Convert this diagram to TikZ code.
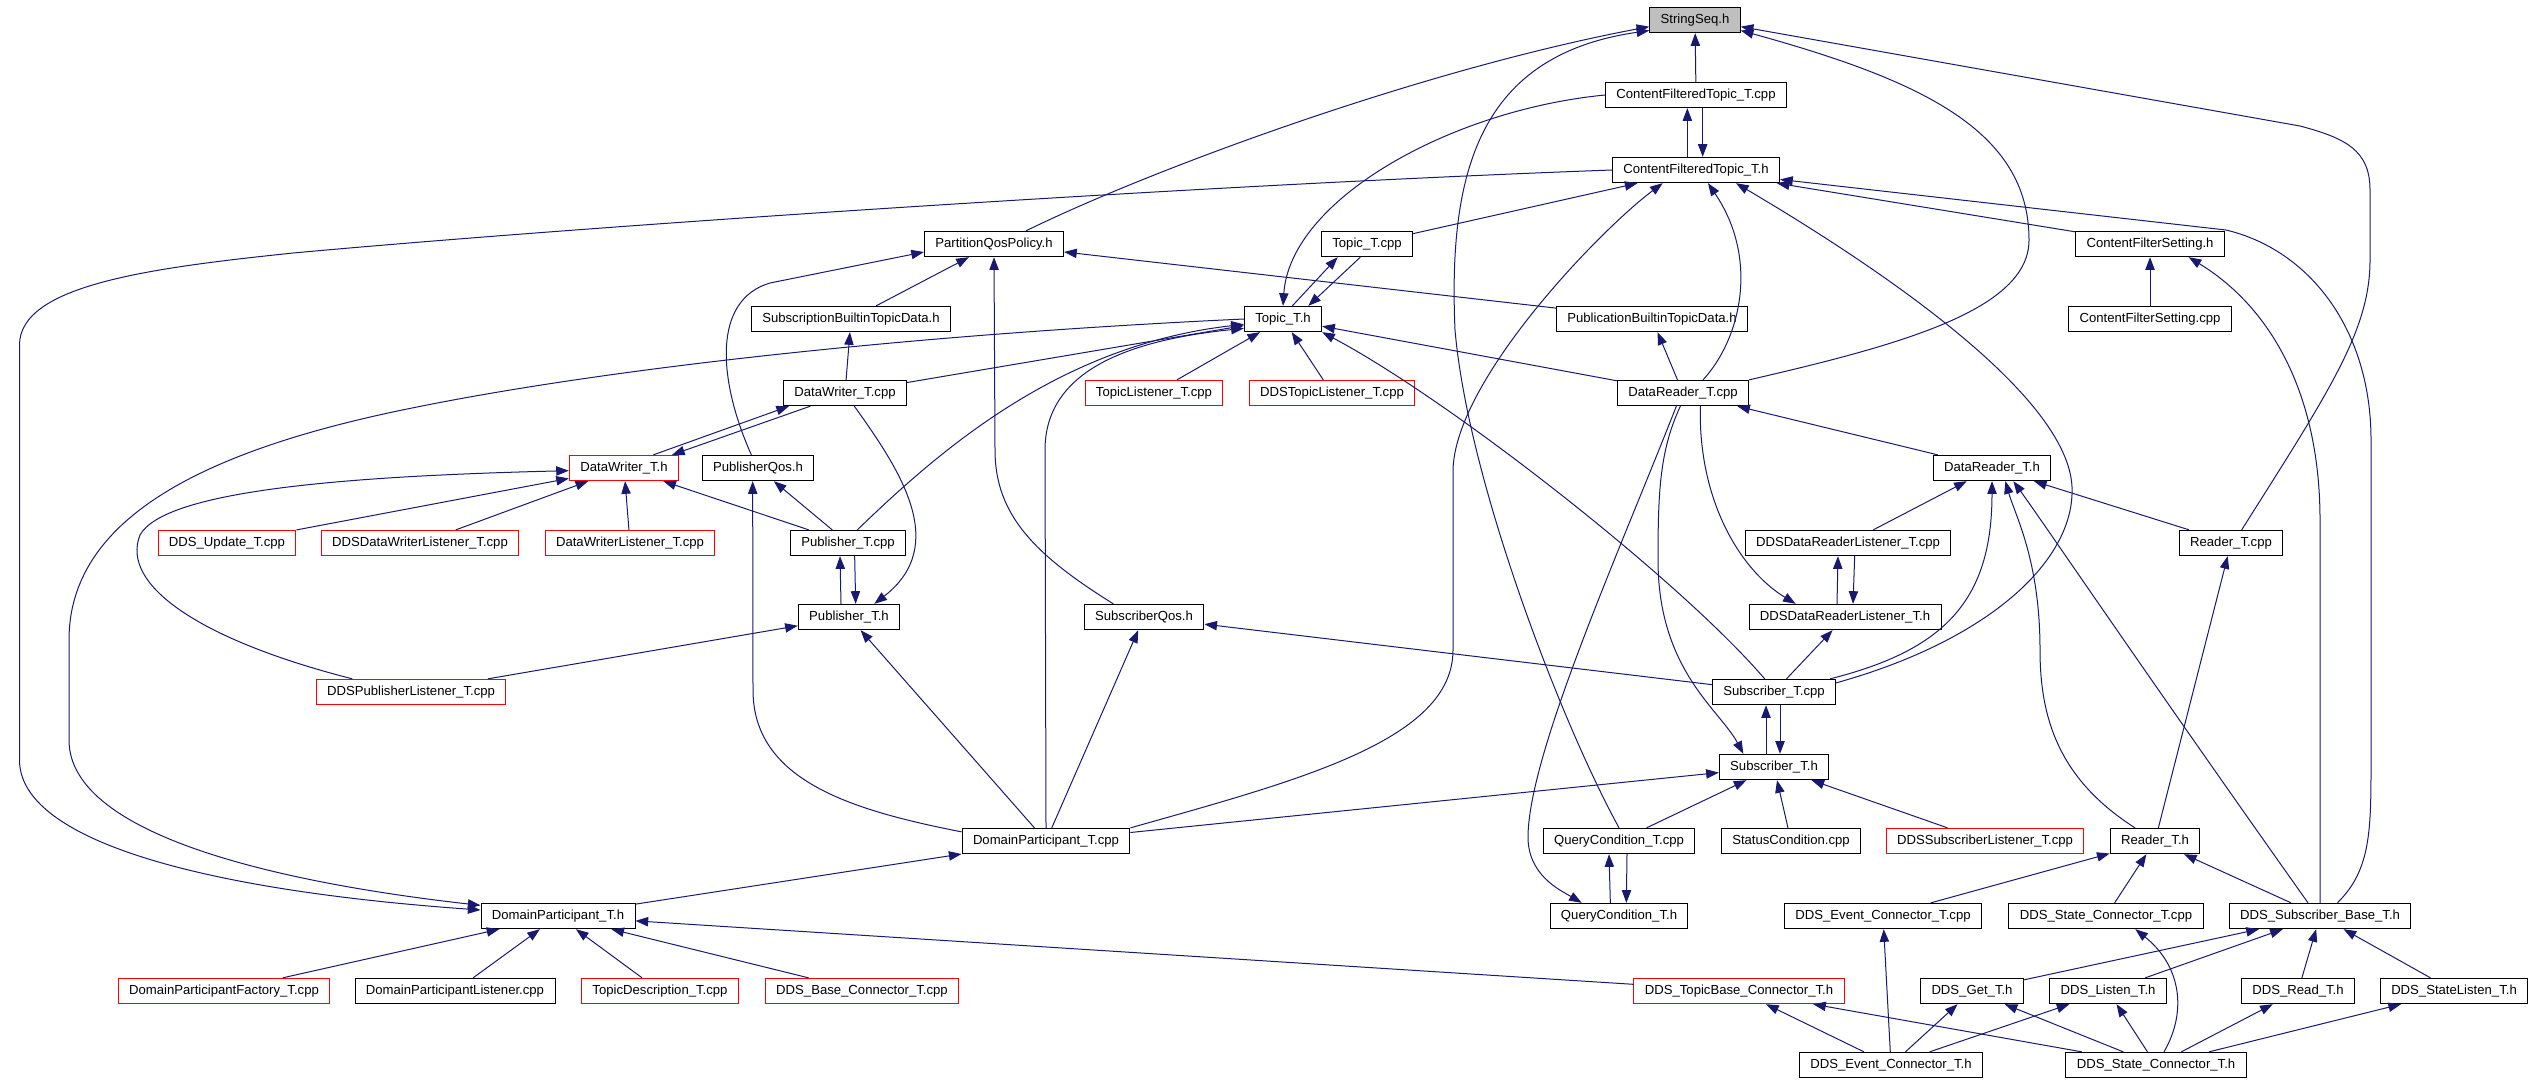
\documentclass[tikz,border=0pt]{standalone}
\usepackage{fontspec}
\setmainfont{Liberation Sans}
\usepackage{tikz}
\usetikzlibrary{arrows.meta}
\definecolor{edgeblue}{HTML}{191970}
\definecolor{rootgray}{HTML}{BFBFBF}

\begin{document}
\begin{tikzpicture}[x=0.75pt, y=-0.75pt,
    filebox/.style={draw=black, line width=0.75pt, fill=white, inner xsep=8.2pt, inner ysep=4.65pt,
        text height=7.5pt, text depth=2.2pt, font=\fontsize{9.85}{11}\selectfont},
    redbox/.style={filebox, draw=red},
    rootbox/.style={filebox, fill=rootgray},
    incl/.style={draw=edgeblue, line width=0.75pt, -{Triangle[length=9.5pt,width=7pt]}}]
    \useasboundingbox (0,0) rectangle (2533,1083);

    % files, row by row
    \node[rootbox] (stringseq) at (1695,20) {StringSeq.h};
    \node[filebox] (cftcpp) at (1696,95) {ContentFilteredTopic\_T.cpp};
    \node[filebox] (cfth) at (1696,170) {ContentFilteredTopic\_T.h};
    \node[filebox] (pqp) at (994,244) {PartitionQosPolicy.h};
    \node[filebox] (topiccpp) at (1367,244) {Topic\_T.cpp};
    \node[filebox] (cfsh) at (2150,244) {ContentFilterSetting.h};
    \node[filebox] (sbtd) at (851,319) {SubscriptionBuiltinTopicData.h};
    \node[filebox] (topich) at (1283,319) {Topic\_T.h};
    \node[filebox] (pbtd) at (1652,319) {PublicationBuiltinTopicData.h};
    \node[filebox] (cfscpp) at (2150,319) {ContentFilterSetting.cpp};
    \node[filebox] (dwcpp) at (845,393) {DataWriter\_T.cpp};
    \node[redbox] (topiclist) at (1154,393) {TopicListener\_T.cpp};
    \node[redbox] (ddstopiclist) at (1332,393) {DDSTopicListener\_T.cpp};
    \node[filebox] (drcpp) at (1683,393) {DataReader\_T.cpp};
    \node[redbox] (dwh) at (624,468) {DataWriter\_T.h};
    \node[filebox] (pubqos) at (758,468) {PublisherQos.h};
    \node[filebox] (drh) at (1992,468) {DataReader\_T.h};
    \node[redbox] (ddsupdate) at (227,543) {DDS\_Update\_T.cpp};
    \node[redbox] (ddsdwlist) at (420,543) {DDSDataWriterListener\_T.cpp};
    \node[redbox] (dwlist) at (630,543) {DataWriterListener\_T.cpp};
    \node[filebox] (pubcpp) at (848,543) {Publisher\_T.cpp};
    \node[filebox] (ddsdrlcpp) at (1848,543) {DDSDataReaderListener\_T.cpp};
    \node[filebox] (readercpp) at (2231,543) {Reader\_T.cpp};
    \node[filebox] (pubh) at (849,617) {Publisher\_T.h};
    \node[filebox] (subqos) at (1144,617) {SubscriberQos.h};
    \node[filebox] (ddsdrlh) at (1845,617) {DDSDataReaderListener\_T.h};
    \node[redbox] (ddspublist) at (411,692) {DDSPublisherListener\_T.cpp};
    \node[filebox] (subcpp) at (1774,692) {Subscriber\_T.cpp};
    \node[filebox] (subh) at (1774,767) {Subscriber\_T.h};
    \node[filebox] (dpcpp) at (1046,841) {DomainParticipant\_T.cpp};
    \node[filebox] (qccpp) at (1619,841) {QueryCondition\_T.cpp};
    \node[filebox] (statuscond) at (1791,841) {StatusCondition.cpp};
    \node[redbox] (ddssublist) at (1985,841) {DDSSubscriberListener\_T.cpp};
    \node[filebox] (readerh) at (2155,841) {Reader\_T.h};
    \node[filebox] (dph) at (558,916) {DomainParticipant\_T.h};
    \node[filebox] (qch) at (1619,916) {QueryCondition\_T.h};
    \node[filebox] (eventcpp) at (1883,916) {DDS\_Event\_Connector\_T.cpp};
    \node[filebox] (statecpp) at (2106,916) {DDS\_State\_Connector\_T.cpp};
    \node[filebox] (subbase) at (2320,916) {DDS\_Subscriber\_Base\_T.h};
    \node[redbox] (factory) at (224,991) {DomainParticipantFactory\_T.cpp};
    \node[filebox] (dplist) at (455,991) {DomainParticipantListener.cpp};
    \node[redbox] (topicdesc) at (660,991) {TopicDescription\_T.cpp};
    \node[redbox] (basecon) at (862,991) {DDS\_Base\_Connector\_T.cpp};
    \node[redbox] (topicbase) at (1739,991) {DDS\_TopicBase\_Connector\_T.h};
    \node[filebox] (get) at (1972,991) {DDS\_Get\_T.h};
    \node[filebox] (listen) at (2108,991) {DDS\_Listen\_T.h};
    \node[filebox] (read) at (2298,991) {DDS\_Read\_T.h};
    \node[filebox] (statelisten) at (2454,991) {DDS\_StateListen\_T.h};
    \node[filebox] (eventh) at (1891,1065) {DDS\_Event\_Connector\_T.h};
    \node[filebox] (stateh) at (2156,1065) {DDS\_State\_Connector\_T.h};

    % straight includes
    \foreach \s/\t in {cftcpp/stringseq, topiccpp/cfth, cfsh/cfth, sbtd/pqp, pbtd/pqp,
            cfscpp/cfsh, dwcpp/sbtd, dwcpp/topich, topiclist/topich, ddstopiclist/topich,
            drcpp/topich, drcpp/pbtd, pubcpp/dwh, pubcpp/pubqos, ddsupdate/dwh,
            ddsdwlist/dwh, dwlist/dwh, ddspublist/pubh, dpcpp/pubh, dpcpp/subqos,
            subcpp/subqos, dpcpp/subh, dph/dpcpp, factory/dph, dplist/dph, topicdesc/dph,
            basecon/dph, topicbase/dph, drh/drcpp, ddsdrlcpp/drh, readercpp/drh,
            readerh/readercpp, subcpp/ddsdrlh, qccpp/subh, statuscond/subh, ddssublist/subh,
            eventcpp/readerh, statecpp/readerh, subbase/readerh, eventh/eventcpp,
            get/subbase, listen/subbase, read/subbase, statelisten/subbase,
            eventh/topicbase, stateh/topicbase, eventh/get, stateh/get,
            eventh/listen, stateh/listen, stateh/read, stateh/statelisten}{
        \draw[incl] (\s) -- (\t);
    };

    % pairs that include each other
    \draw[incl] ([xshift=-6.5pt]cfth.north) -- ([xshift=-6.5pt]cftcpp.south);
    \draw[incl] ([xshift=5pt]cftcpp.south) -- ([xshift=5pt]cfth.north);
    \draw[incl] ([xshift=7pt]topich.north) -- ([xshift=-22pt]topiccpp.south);
    \draw[incl] ([xshift=-5pt]topiccpp.south) -- ([xshift=19pt]topich.north);
    \draw[incl] ([xshift=22pt]dwh.north) -- ([xshift=-42pt]dwcpp.south);
    \draw[incl] ([xshift=-26pt]dwcpp.south) -- ([xshift=36pt]dwh.north);
    \draw[incl] ([xshift=-6pt]pubh.north) -- ([xshift=-6pt]pubcpp.south);
    \draw[incl] ([xshift=5pt]pubcpp.south) -- ([xshift=5pt]pubh.north);
    \draw[incl] ([xshift=-6pt]ddsdrlh.north) -- ([xshift=-7.5pt]ddsdrlcpp.south);
    \draw[incl] ([xshift=5pt]ddsdrlcpp.south) -- ([xshift=6pt]ddsdrlh.north);
    \draw[incl] ([xshift=-6pt]subh.north) -- ([xshift=-6pt]subcpp.south);
    \draw[incl] ([xshift=4.5pt]subcpp.south) -- ([xshift=4.5pt]subh.north);
    \draw[incl] ([xshift=-6.5pt]qch.north) -- ([xshift=-7.5pt]qccpp.south);
    \draw[incl] ([xshift=6pt]qccpp.south) -- ([xshift=5.5pt]qch.north);

    % curved includes
    \draw[incl] ([xshift=24pt]pqp.north) .. controls (1150,170) and (1420,70) .. ([yshift=-5pt]stringseq.west);
    \draw[incl] (qccpp.north) .. controls (1560,720) and (1468,480) .. (1455,330)
        .. controls (1448,170) and (1480,55) .. ([yshift=2pt]stringseq.south west);
    \draw[incl] (drcpp.north east) .. controls (1900,345) and (2029,310) .. (2029,240)
        .. controls (2029,130) and (1920,80) .. ([yshift=2pt]stringseq.south east);
    \draw[incl] ([xshift=8pt]readercpp.north) .. controls (2330,390) and (2370,330) .. (2370,260) -- (2370,190)
        .. controls (2370,150) and (2345,138) .. (2300,126) -- ([yshift=-5pt]stringseq.east);
    \draw[incl] (cftcpp.west) .. controls (1450,110) and (1290,200) .. (topich.north);
    \draw[incl] ([xshift=13pt]subbase.north) .. controls (2371,870) and (2371,830) .. (2371,760) -- (2371,440)
        .. controls (2371,330) and (2310,250) .. (2226,230) -- (cfth);
    \draw[incl] ([yshift=-3pt]subcpp.north east) .. controls (1990,640) and (2075,560) .. (2072,487)
        .. controls (2068,400) and (1900,280) .. ([xshift=30pt]cfth.south);
    \draw[incl] ([xshift=15pt]drcpp.north) .. controls (1740,340) and (1760,260) .. ([xshift=9pt]cfth.south);
    \draw[incl] (dpcpp.north east) .. controls (1300,780) and (1453,740) .. (1453,650) -- (1453,470)
        .. controls (1455,380) and (1600,230) .. ([xshift=-25pt]cfth.south);
    \draw[incl] (cfth.west) .. controls (1200,185) and (600,225) .. (293,253)
        .. controls (150,268) and (19.5,285) .. (19.5,345) -- (19.5,760)
        .. controls (19.5,840) and (200,890) .. ([yshift=4.5pt]dph.west);
    \draw[incl] (topich.west) .. controls (900,335) and (600,370) .. (417,407)
        .. controls (200,450) and (69,520) .. (69,640) -- (69,740)
        .. controls (69,840) and (300,885) .. ([yshift=8pt]dph.west);
    \draw[incl] ([xshift=-5pt]pubqos.north) .. controls (718,380) and (712,300) .. (770,283) -- ([yshift=-6pt]pqp.west);
    \draw[incl] ([xshift=-23pt]subqos.north) .. controls (1035,555) and (995,515) .. (995,450) -- (pqp.south);
    \draw[incl] (subbase.north) -- (2320,520) .. controls (2320,400) and (2275,310) .. ([xshift=29pt]cfsh.south);
    \draw[incl] ([xshift=7pt]pubcpp.north) .. controls (940,450) and (1060,345) .. ([yshift=-4pt]topich.west);
    \draw[incl] (dpcpp.north) -- (1045,450) .. controls (1045,370) and (1130,340) .. ([yshift=-7pt]topich.west);
    \draw[incl] ([xshift=-7pt]subcpp.north) .. controls (1680,580) and (1450,400) .. (topich.south east);
    \draw[incl] ([xshift=7pt]dwcpp.south) .. controls (900,470) and (950,545) .. ([xshift=19pt]pubh.north);
    \draw[incl] ([xshift=-44pt]ddspublist.north) .. controls (200,640) and (120,585) .. (140,535)
        .. controls (165,490) and (350,476) .. ([yshift=-2pt]dwh.west);
    \draw[incl] ([yshift=-3pt]dpcpp.north west) .. controls (850,810) and (753,780) .. (753,690) -- ([xshift=-4pt]pubqos.south);
    \draw[incl] ([xshift=13pt]drcpp.south) .. controls (1698,500) and (1740,570) .. ([xshift=-37pt]ddsdrlh.north);
    \draw[incl] ([xshift=-2pt]drcpp.south) .. controls (1660,450) and (1658,490) .. (1658,560)
        .. controls (1658,670) and (1720,710) .. ([xshift=-23pt]subh.north);
    \draw[incl] ([xshift=-5pt]drcpp.south) .. controls (1620,550) and (1530,750) .. (1528,835)
        .. controls (1527,875) and (1560,890) .. ([xshift=-28pt]qch.north);
    \draw[incl] ([xshift=42pt]subcpp.north) .. controls (1945,650) and (1992,600) .. (drh.south);
    \draw[incl] ([xshift=-15pt]readerh.north) .. controls (2060,780) and (2040,720) .. (2040,650)
        .. controls (2040,560) and (2015,515) .. ([xshift=10pt]drh.south);
    \draw[incl] ([xshift=-9pt]subbase.north) .. controls (2150,680) and (2045,525) .. ([xshift=16pt]drh.south);
    \draw[incl] ([xshift=6pt]stateh.north) .. controls (2188,1010) and (2180,965) .. ([xshift=22pt]statecpp.south);
\end{tikzpicture}
\end{document}
